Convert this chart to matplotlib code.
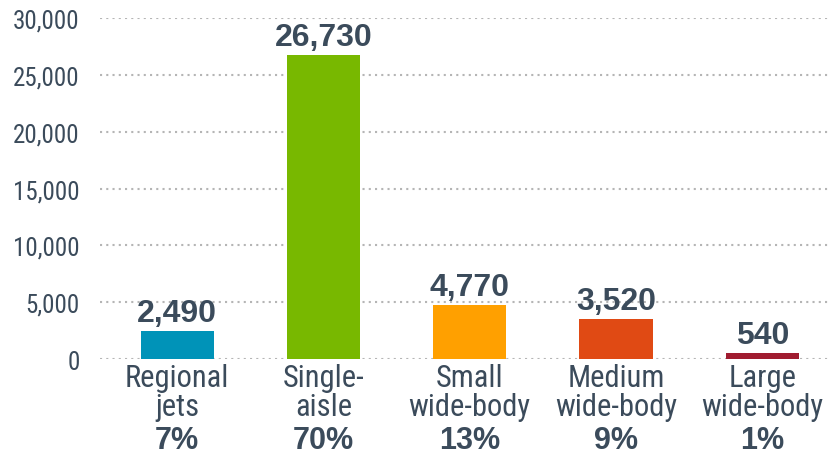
import matplotlib.pyplot as plt

categories = ["Regional\njets", "Single-\naisle", "Small\nwide-body", "Medium\nwide-body", "Large\nwide-body"]
values = [2490, 26730, 4770, 3520, 540]
shares = ["7%", "70%", "13%", "9%", "1%"]
colors = ["#0093b8", "#78b800", "#ffa000", "#e04a14", "#a01c30"]
yticks = [0, 5000, 10000, 15000, 20000, 25000, 30000]

narrow = ["Roboto Condensed", "Liberation Sans", "DejaVu Sans"]
textcol = "#3b4b5b"

fig = plt.figure(figsize=(8.31, 4.52), dpi=100)
ax = fig.add_axes([0.12, 0.2035, 0.88, 0.7545])

x = list(range(len(values)))
ax.bar(x, values, width=0.5, color=colors, zorder=3)

# value labels above the bars
for xi, v in zip(x, values):
    ax.annotate(f"{v:,}", (xi, v), xytext=(0, 2), textcoords="offset points",
                ha="center", va="bottom", fontsize=23, fontweight="bold",
                family="Liberation Sans", color=textcol)

ax.set_xlim(-0.53, 4.47)
ax.set_ylim(0, 30000)
ax.set_yticks(yticks)
ax.set_yticklabels([f"{t:,}" for t in yticks], family=narrow, fontsize=18, color=textcol)
ax.tick_params(axis="y", length=0, pad=14.5)
ax.set_xticks(x)
ax.set_xticklabels(categories, family=narrow, fontsize=22, color=textcol, linespacing=0.98)
ax.tick_params(axis="x", length=0, pad=3)

# share of fleet under each category
trans = ax.get_xaxis_transform()
for xi, s in zip(x, shares):
    ax.text(xi, -0.262, s, transform=trans, ha="center", va="baseline",
            family="Liberation Sans", fontweight="bold", fontsize=22, color=textcol)

ax.grid(axis="y", linestyle=(0, (1, 2)), color="#b5b5b5", linewidth=1.5, zorder=0)
for sp in ax.spines.values():
    sp.set_visible(False)

fig.savefig("out.png", dpi=100)
